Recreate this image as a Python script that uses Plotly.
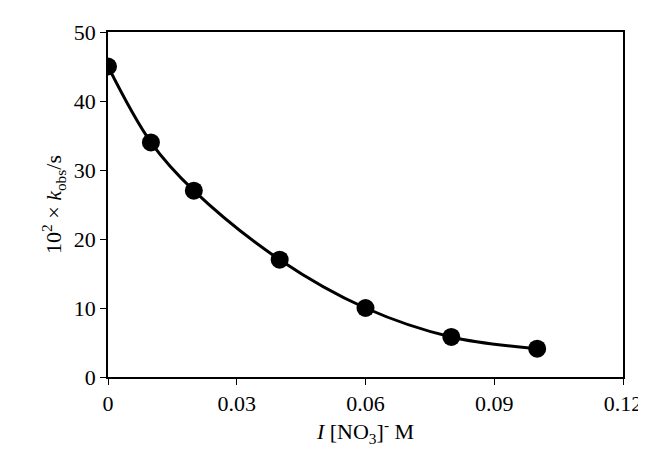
import plotly.graph_objects as go

conc = [0, 0.01, 0.02, 0.04, 0.06, 0.08, 0.10]
k_obs = [45, 34, 27, 17, 10, 5.8, 4.1]
x_ticks = [0, 0.03, 0.06, 0.09, 0.12]
x_labels = ["0", "0.03", "0.06", "0.09", "0.12"]

fig = go.Figure()
fig.add_trace(go.Scatter(x=conc, y=k_obs, mode="lines+markers",
                         line=dict(color="black", width=3, shape="spline"),
                         marker=dict(color="black", size=18)))

axis_style = dict(showline=True, linecolor="black", linewidth=1.5, mirror=True,
                  ticks="outside", ticklen=6, tickcolor="black", showgrid=False,
                  zeroline=False, tickfont=dict(size=22, color="black"))
fig.update_xaxes(range=[0, 0.12], tickvals=x_ticks, ticktext=x_labels,
                 title=dict(text="<i>I</i> [NO<sub>3</sub>]<sup>-</sup> M", font=dict(size=22, color="black"), standoff=8),
                 **axis_style)
fig.update_yaxes(range=[0, 50], dtick=10,
                 title=dict(text="10<sup>2</sup> × <i>k</i><sub>obs</sub>/s", font=dict(size=22, color="black"), standoff=6),
                 **axis_style)
fig.update_layout(width=646, height=455, plot_bgcolor="white", paper_bgcolor="white",
                  showlegend=False, font=dict(family="Liberation Serif"),
                  margin=dict(l=100, r=30, t=12, b=86))
fig.write_html("out.html")
